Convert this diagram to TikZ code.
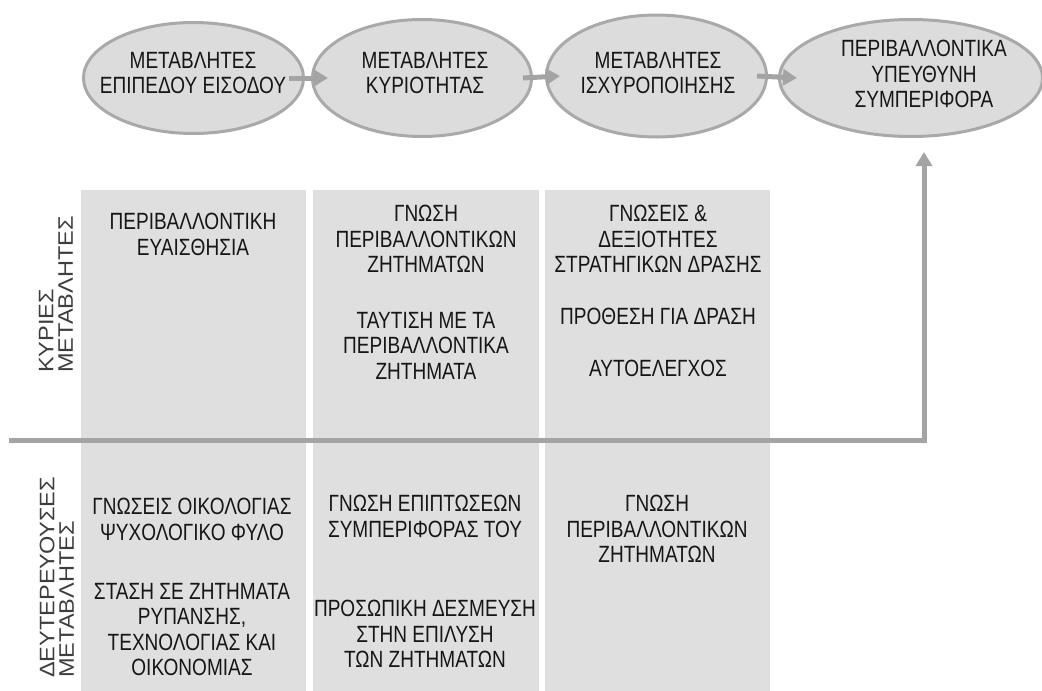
\documentclass[tikz,border=0pt]{standalone}
\usepackage{fontspec}
\setmainfont{Liberation Sans}[FakeStretch=0.81]
\newfontfamily\sidefont{Liberation Sans}[FakeStretch=1.12]
\usetikzlibrary{arrows.meta,shapes.geometric}
\definecolor{ovalfill}{HTML}{DCDCDC}
\definecolor{ovalline}{HTML}{A9A9A9}
\definecolor{panel}{HTML}{DFDFDF}
\definecolor{flow}{HTML}{A4A4A4}
\definecolor{ink}{HTML}{161616}
\definecolor{sideink}{HTML}{3E3E3E}
\begin{document}
\begin{tikzpicture}[x=1pt,y=-1pt,
  oval/.style={ellipse, draw=ovalline, line width=3pt, fill=ovalfill, inner sep=0pt},
  colbox/.style={rectangle, fill=panel, inner sep=0pt, anchor=north west,
    minimum width=225pt, minimum height=501pt},
  txt/.style={text=ink, align=center, inner sep=0pt, anchor=north,
    font=\fontsize{23.5}{25.5}\selectfont},
  side/.style={text=sideink, align=left, inner sep=0pt, rotate=90, anchor=south west,
    font=\sidefont\fontsize{21}{19.5}\selectfont},
  flowarrow/.style={draw=flow, line width=5pt, -{Triangle[length=14pt,width=16pt]}},
]
\useasboundingbox (0,0) rectangle (1042,691);

% grey columns
\node[colbox] (c1) at (81,190) {};
\node[colbox, minimum width=226pt] (c2) at (313,190) {};
\node[colbox] (c3) at (545,190) {};

% row separator leading up to the outcome
\coordinate (lstart) at (9,440);

% stages of the model
\node[oval, minimum width=220pt, minimum height=111pt] (e1) at (193.5,78) {};
\node[oval, minimum width=219pt, minimum height=117pt] (e2) at (422,78) {};
\node[oval, minimum width=220pt, minimum height=122pt] (e3) at (656.5,76) {};
\node[oval, minimum width=263pt, minimum height=117pt] (e4) at (911,78) {};

\node[txt] (e1t) at (193,52) {ΜΕΤΑΒΛΗΤΕΣ\\ΕΠΙΠΕΔΟΥ ΕΙΣΟΔΟΥ};
\node[txt] (e2t) at (425,52) {ΜΕΤΑΒΛΗΤΕΣ\\ΚΥΡΙΟΤΗΤΑΣ};
\node[txt] (e3t) at (658,52) {ΜΕΤΑΒΛΗΤΕΣ\\ΙΣΧΥΡΟΠΟΙΗΣΗΣ};
\node[txt] (e4t) at (924,40) {ΠΕΡΙΒΑΛΛΟΝΤΙΚΑ\\ΥΠΕΥΘΥΝΗ\\ΣΥΜΠΕΡΙΦΟΡΑ};

\draw[flowarrow] ([xshift=-16pt]e1.east) -- ([xshift=17pt]e2.west);
\draw[flowarrow] ([xshift=-10pt]e2.east) -- ([xshift=15pt]e3.west);
\draw[flowarrow] ([xshift=-11pt]e3.east) -- ([xshift=19pt]e4.west);

\coordinate (tip) at ([yshift=-14pt]e4.south);
\draw[flowarrow] (lstart) -| (tip -| e4t);

% main variables
\node[txt] (t1a) at (193,213) {ΠΕΡΙΒΑΛΛΟΝΤΙΚΗ\\ΕΥΑΙΣΘΗΣΙΑ};
\node[txt] (t2a) at (426,205) {ΓΝΩΣΗ\\ΠΕΡΙΒΑΛΛΟΝΤΙΚΩΝ\\ΖΗΤΗΜΑΤΩΝ};
\node[txt] (t2b) at (426,312) {ΤΑΥΤΙΣΗ ΜΕ ΤΑ\\ΠΕΡΙΒΑΛΛΟΝΤΙΚΑ\\ΖΗΤΗΜΑΤΑ};
\node[txt] (t3a) at (658,205) {ΓΝΩΣΕΙΣ \&\\ΔΕΞΙΟΤΗΤΕΣ\\ΣΤΡΑΤΗΓΙΚΩΝ ΔΡΑΣΗΣ};
\node[txt] (t3b) at (658,308) {ΠΡΟΘΕΣΗ ΓΙΑ ΔΡΑΣΗ};
\node[txt] (t3c) at (658,360) {ΑΥΤΟΕΛΕΓΧΟΣ};

% secondary variables
\node[txt] (b1a) at (192,498) {ΓΝΩΣΕΙΣ ΟΙΚΟΛΟΓΙΑΣ\\ΨΥΧΟΛΟΓΙΚΟ ΦΥΛΟ};
\node[txt] (b1b) at (192,583) {ΣΤΑΣΗ ΣΕ ΖΗΤΗΜΑΤΑ\\ΡΥΠΑΝΣΗΣ,\\ΤΕΧΝΟΛΟΓΙΑΣ ΚΑΙ\\ΟΙΚΟΝΟΜΙΑΣ};
\node[txt] (b2a) at (425,495) {ΓΝΩΣΗ ΕΠΙΠΤΩΣΕΩΝ\\ΣΥΜΠΕΡΙΦΟΡΑΣ ΤΟΥ};
\node[txt] (b2b) at (425,600) {ΠΡΟΣΩΠΙΚΗ ΔΕΣΜΕΥΣΗ\\ΣΤΗΝ ΕΠΙΛΥΣΗ\\ΤΩΝ ΖΗΤΗΜΑΤΩΝ};
\node[txt] (b3a) at (657,495) {ΓΝΩΣΗ\\ΠΕΡΙΒΑΛΛΟΝΤΙΚΩΝ\\ΖΗΤΗΜΑΤΩΝ};

% row headings
\node[side] (s1) at (73,373) {ΚΥΡΙΕΣ\\ΜΕΤΑΒΛΗΤΕΣ};
\node[side] (s2) at (74,678) {ΔΕΥΤΕΡΕΥΟΥΣΕΣ\\ΜΕΤΑΒΛΗΤΕΣ};
\end{tikzpicture}
\end{document}
